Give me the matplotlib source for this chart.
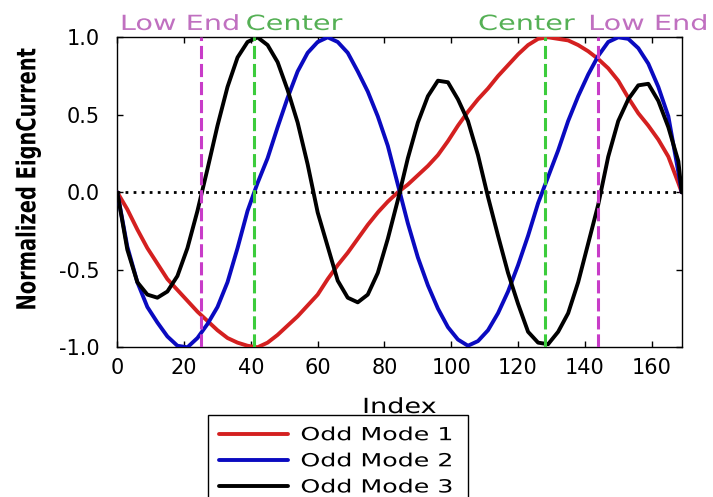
import matplotlib
matplotlib.use("Agg")
import matplotlib.pyplot as plt
from matplotlib.patheffects import AbstractPathEffect
from matplotlib.transforms import Affine2D
from matplotlib.ticker import FixedLocator, FixedFormatter

# ---- data -------------------------------------------------------------
index = [0, 3, 6, 9, 12, 15, 18, 21, 24, 27, 30, 33, 36, 39, 42, 45, 48, 51,
         54, 57, 60, 63, 66, 69, 72, 75, 78, 81, 84, 87, 90, 93, 96, 99, 102,
         105, 108, 111, 114, 117, 120, 123, 126, 129, 132, 135, 138, 141, 144,
         147, 150, 153, 156, 159, 162, 165, 168, 169]

odd_mode_1 = [0.00, -0.11, -0.24, -0.36, -0.46, -0.56, -0.63, -0.70, -0.77,
              -0.83, -0.89, -0.94, -0.97, -0.99, -1.00, -0.97, -0.92, -0.86,
              -0.80, -0.73, -0.66, -0.56, -0.47, -0.39, -0.30, -0.21, -0.13,
              -0.06, 0.00, 0.05, 0.11, 0.17, 0.24, 0.33, 0.43, 0.52, 0.60,
              0.67, 0.75, 0.82, 0.89, 0.95, 0.99, 1.00, 0.99, 0.98, 0.95,
              0.91, 0.86, 0.80, 0.72, 0.61, 0.51, 0.43, 0.34, 0.23, 0.06, 0.00]

odd_mode_2 = [0.00, -0.35, -0.58, -0.74, -0.84, -0.93, -0.99, -1.00, -0.94,
              -0.85, -0.74, -0.58, -0.36, -0.12, 0.06, 0.22, 0.42, 0.61,
              0.78, 0.90, 0.97, 1.00, 0.97, 0.90, 0.78, 0.65, 0.49, 0.30,
              0.05, -0.20, -0.42, -0.60, -0.75, -0.87, -0.95, -0.99, -0.96,
              -0.89, -0.78, -0.64, -0.47, -0.28, -0.07, 0.10, 0.27, 0.46,
              0.62, 0.76, 0.88, 0.97, 1.00, 0.99, 0.93, 0.83, 0.68, 0.49,
              0.13, 0.00]

odd_mode_3 = [0.00, -0.37, -0.58, -0.66, -0.68, -0.64, -0.54, -0.36, -0.12,
              0.15, 0.43, 0.68, 0.87, 0.97, 1.00, 0.95, 0.84, 0.66, 0.45,
              0.18, -0.13, -0.35, -0.57, -0.68, -0.71, -0.66, -0.52, -0.30,
              -0.05, 0.22, 0.45, 0.62, 0.72, 0.71, 0.60, 0.46, 0.24, -0.03,
              -0.28, -0.52, -0.72, -0.90, -0.97, -0.98, -0.90, -0.78, -0.58,
              -0.33, -0.08, 0.23, 0.46, 0.60, 0.69, 0.70, 0.59, 0.42, 0.20,
              0.00]

series_labels = ["Odd Mode 1", "Odd Mode 2", "Odd Mode 3"]
low_end_index = [25, 144]
center_index = [41, 128]

x_ticks = [0, 20, 40, 60, 80, 100, 120, 140, 160]
y_ticks = [-1.0, -0.5, 0.0, 0.5, 1.0]
y_tick_labels = ["-1.0", "-0.5", "0.0", "0.5", "1.0"]


# ---- helper: widen glyph outlines horizontally ------------------------
class WideText(AbstractPathEffect):
    def __init__(self, sx, anchor="center"):
        super().__init__()
        self.sx = sx
        self.anchor = anchor

    def draw_path(self, renderer, gc, tpath, affine, rgbFace=None):
        ext = tpath.get_extents(affine)
        x0 = ext.x0 if self.anchor == "left" else 0.5 * (ext.x0 + ext.x1)
        aff = affine + Affine2D().translate(-x0, 0).scale(self.sx, 1.0).translate(x0, 0)
        renderer.draw_path(gc, tpath, aff, rgbFace)


# ---- figure -----------------------------------------------------------
W, H = 713, 497
fig = plt.figure(figsize=(W / 100, H / 100), dpi=100)
ax = fig.add_axes([117.3 / W, 1 - 347.3 / H, 564.4 / W, 310 / H])

colors = ["#d42020", "#0a0ac0", "#000000"]
for ys, lab, c in zip([odd_mode_1, odd_mode_2, odd_mode_3], series_labels, colors):
    ax.plot(index, ys, color=c, lw=2.8, label=lab, solid_capstyle="round",
            solid_joinstyle="round", zorder=3)

ax.axhline(0.0, color="black", lw=2.0, ls=(0, (1, 1.9)), zorder=4)

dash = (0, (4.3, 1.6))
for xv in low_end_index:
    ax.axvline(xv, color="#c83cc8", lw=2.2, ls=dash, zorder=5)
for xv in center_index:
    ax.axvline(xv, color="#3ccc3c", lw=2.2, ls=dash, zorder=5)

ax.set_xlim(0, 169)
ax.set_ylim(-1.0, 1.0)
ax.xaxis.set_major_locator(FixedLocator(x_ticks))
ax.yaxis.set_major_locator(FixedLocator(y_ticks))
ax.yaxis.set_major_formatter(FixedFormatter(y_tick_labels))
ax.tick_params(direction="in", length=4, width=1.0, top=True, right=True,
               labelsize=15, colors="black")
ax.tick_params(axis="x", pad=8)
ax.tick_params(axis="y", pad=12.5)
for sp in ax.spines.values():
    sp.set_linewidth(1.0)
    sp.set_color("black")

# marker-line captions above the axes
caption_specs = [
    ("Low End", low_end_index[0], -14.9, "#c070c0"),
    ("Center", center_index[0], 28.8, "#55b055"),
    ("Center", center_index[1], -13.1, "#55b055"),
    ("Low End", low_end_index[1], 36.1, "#c070c0"),
]
for txt, xv, dx, col in caption_specs:
    t = ax.annotate(txt, xy=(xv, 1.0), xytext=(dx, 5.3), textcoords="offset points",
                    ha="center", va="baseline", fontsize=15, color=col,
                    annotation_clip=False)
    t.set_path_effects([WideText(1.38)])

# axis labels
xl = ax.set_xlabel("Index", fontsize=15)
ax.xaxis.set_label_coords(0.5, (347.3 - 413) / 310)
xl.set_va("baseline")
xl.set_path_effects([WideText(1.3)])

yl = ax.set_ylabel("Normalized EignCurrent", fontsize=14, fontweight="bold")
ax.yaxis.set_label_coords((28 - 117.3) / 564.4, (347.3 - 179) / 310)
yl.set_va("center")
yl.set_path_effects([WideText(1.35)])

# legend below the axes
leg = ax.legend(loc="upper left",
                bbox_to_anchor=(208 / W, 0.0, 260 / W, 1 - 415 / H),
                bbox_transform=fig.transFigure, mode="expand",
                borderaxespad=0, fontsize=13, frameon=True, fancybox=False,
                edgecolor="black", framealpha=1, handlelength=3.8,
                handletextpad=0.72, borderpad=0.62, labelspacing=0.45)
leg.get_frame().set_linewidth(1.0)
for t in leg.get_texts():
    t.set_path_effects([WideText(1.4, "left")])

fig.savefig("out.png", dpi=100)
